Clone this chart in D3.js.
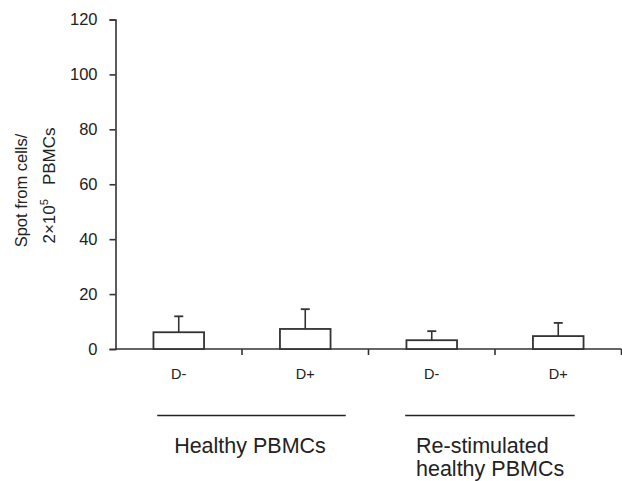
<!DOCTYPE html>
<html><head><meta charset="utf-8">
<script src="https://cdn.jsdelivr.net/npm/d3@7"></script>
<style>body{margin:0;background:#fff}svg{display:block}text{font-family:"Liberation Sans",Arial,sans-serif;fill:#222}</style>
</head><body>
<script>
const categories = ["D-", "D+", "D-", "D+"];
const values = [6.1, 7.3, 3.2, 4.7];
const errors = [5.8, 7.2, 3.3, 4.8];
const yTicks = [0, 20, 40, 60, 80, 100, 120];
const groups = ["Healthy PBMCs", "Re-stimulated\nhealthy PBMCs"];

const W = 622, H = 481;
const svg = d3.select("body").append("svg").attr("width", W).attr("height", H);
const x = d3.scaleBand().domain(d3.range(categories.length)).range([115.5, 621.5]);
const y = d3.scaleLinear().domain([0, 120]).range([349, 19.5]);
const stroke = "#333";

// y axis
const ya = svg.append("g").attr("transform", "translate(115.5,0)")
  .call(d3.axisLeft(y).tickValues(yTicks).tickSize(6).tickPadding(12));
ya.attr("font-size", 16).attr("font-family", null);
ya.select(".domain").attr("stroke", stroke).attr("stroke-width", 1.6);
ya.selectAll(".tick line").attr("stroke", stroke).attr("stroke-width", 1.6);
ya.selectAll(".tick text").style("font-size", "16.5px").attr("fill", "#222");

// x axis
const xa = svg.append("g").attr("transform", `translate(0,${y(0)})`);
xa.append("line").attr("x1", x.range()[0]).attr("x2", x.range()[1]).attr("stroke", stroke).attr("stroke-width", 1.6);
const bounds = d3.range(categories.length + 1).map(i => x.range()[0] + i * x.bandwidth());
xa.selectAll(".xt").data(bounds.slice(1)).enter().append("line")
  .attr("x1", d => d).attr("x2", d => d).attr("y1", 0).attr("y2", 6)
  .attr("stroke", stroke).attr("stroke-width", 1.6);
xa.selectAll(".xl").data(categories).enter().append("text")
  .attr("x", (d, i) => x(i) + x.bandwidth() / 2).attr("y", 30)
  .attr("text-anchor", "middle").style("font-size", "14.5px").text(d => d);

// bars
const bw = x.bandwidth() * 0.4;
const bars = svg.append("g");
categories.forEach((c, i) => {
  const cx = x(i) + x.bandwidth() / 2;
  bars.append("line").attr("x1", cx).attr("x2", cx).attr("y1", y(values[i])).attr("y2", y(values[i] + errors[i]))
    .attr("stroke", stroke).attr("stroke-width", 1.6);
  bars.append("line").attr("x1", cx - 4.5).attr("x2", cx + 4.5).attr("y1", y(values[i] + errors[i])).attr("y2", y(values[i] + errors[i]))
    .attr("stroke", stroke).attr("stroke-width", 1.8);
  bars.append("rect").attr("x", cx - bw / 2).attr("width", bw)
    .attr("y", y(values[i])).attr("height", y(0) - y(values[i]))
    .attr("fill", "#fff").attr("stroke", stroke).attr("stroke-width", 1.8);
});

// group lines and labels
const gl = svg.append("g");
const gLines = [[0, 1], [2, 3]];
gLines.forEach(([a, b], gi) => {
  const x1 = x(a) + x.bandwidth() * (gi === 0 ? 0.33 : 0.29), x2 = x(b) + x.bandwidth() * (gi === 0 ? 0.82 : 0.63);
  gl.append("line").attr("x1", x1).attr("x2", x2).attr("y1", 415.5).attr("y2", 415.5).attr("stroke", "#222").attr("stroke-width", 1.6);
});
gl.append("text").attr("x", 250).attr("y", 453).attr("text-anchor", "middle").style("font-size", "21.5px").text(groups[0]);
const t2 = gl.append("text").attr("x", 416).attr("y", 453).style("font-size", "21.5px");
groups[1].split("\n").forEach((s, k) => t2.append("tspan").attr("x", 416).attr("dy", k ? 22.5 : 0).text(s));

// y label
svg.append("text").attr("transform", "translate(27,190.5) rotate(-90)").attr("text-anchor", "middle").style("font-size", "16.5px").text("Spot from cells/");
const yl2 = svg.append("text").attr("transform", "translate(55,185.5) rotate(-90)").attr("text-anchor", "middle").style("font-size", "17px");
yl2.append("tspan").text("2×10");
yl2.append("tspan").style("font-size", "11px").attr("dy", -7).text("5");
yl2.append("tspan").attr("dy", 7).attr("dx", 14).text("PBMCs");
</script>
</body></html>
